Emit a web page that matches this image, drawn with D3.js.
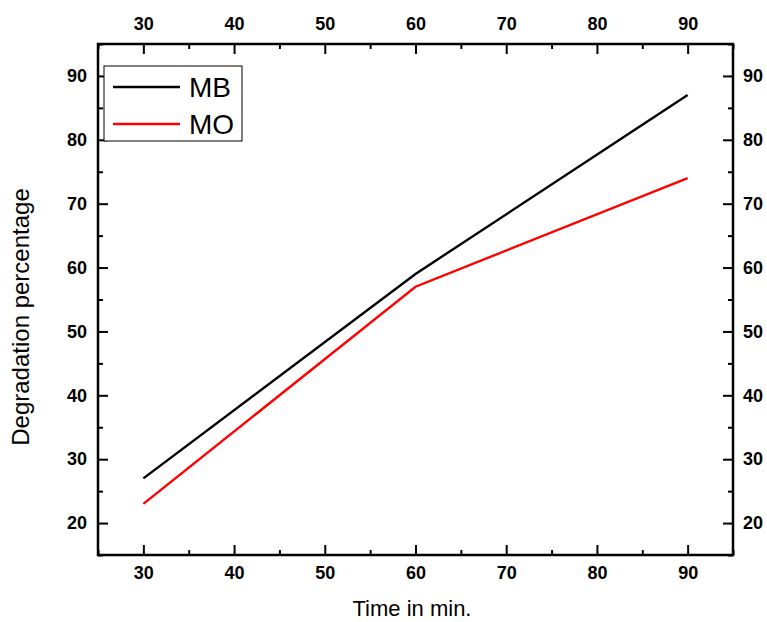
<!DOCTYPE html>
<meta charset="utf-8">
<html lang="en">
<head>
  <title>Degradation percentage vs time</title>
  <script src="https://d3js.org/d3.v7.min.js"></script>
  <style>
    body { margin: 0; background: #fff; }
    text { font-family: "Liberation Sans", Arial, sans-serif; }
    .tick text { font-weight: bold; font-size: 18px; fill: #000; }
  </style>
</head>
<body>
<div id="my_dataviz"></div>
<script>

// data
var times = [30, 60, 90];
var mbValues = [27, 59, 87];
var moValues = [23, 57, 74];
var xTicks = [30, 40, 50, 60, 70, 80, 90];
var yTicks = [20, 30, 40, 50, 60, 70, 80, 90];

var series = [
  { name: "MB", color: "#000000", values: mbValues },
  { name: "MO", color: "#ff0000", values: moValues }
];

// set the dimensions and margins of the graph
var margin = {top: 44, right: 34, bottom: 67, left: 98},
    width = 767 - margin.left - margin.right,
    height = 622 - margin.top - margin.bottom;

var svg = d3.select("#my_dataviz")
  .append("svg")
    .attr("width", 767)
    .attr("height", 622)
  .append("g")
    .attr("transform", "translate(" + margin.left + "," + margin.top + ")");

var x = d3.scaleLinear().domain([25, 95]).range([0, width]);
var y = d3.scaleLinear().domain([15, 95]).range([height, 0]);

var minorX = d3.range(25, 96, 5).filter(function(v) { return xTicks.indexOf(v) < 0; });
var minorY = d3.range(15, 96, 5).filter(function(v) { return yTicks.indexOf(v) < 0; });

// helper to draw an axis with inward ticks (major + minor)
function drawAxis(axisFn, scale, ticks, minor, transform, pad) {
  var g = svg.append("g").attr("transform", transform);
  g.call(axisFn(scale).tickValues(ticks).tickSizeInner(-10).tickSizeOuter(0)
    .tickPadding(pad).tickFormat(d3.format("d")));
  g.select(".domain").remove();
  g.selectAll(".tick line").attr("stroke", "#000").attr("stroke-width", 2);

  var gm = svg.append("g").attr("transform", transform);
  gm.call(axisFn(scale).tickValues(minor).tickSizeInner(-5).tickSizeOuter(0).tickFormat(""));
  gm.select(".domain").remove();
  gm.selectAll(".tick line").attr("stroke", "#000").attr("stroke-width", 2);
  return g;
}

drawAxis(d3.axisBottom, x, xTicks, minorX, "translate(0," + height + ")", 11);
drawAxis(d3.axisTop, x, xTicks, minorX, "translate(0,0)", 14);
drawAxis(d3.axisLeft, y, yTicks, minorY, "translate(0,0)", 11);
drawAxis(d3.axisRight, y, yTicks, minorY, "translate(" + width + ",0)", 10);

// frame
svg.append("rect")
  .attr("x", 0).attr("y", 0)
  .attr("width", width).attr("height", height)
  .attr("fill", "none")
  .attr("stroke", "#000")
  .attr("stroke-width", 2.5);

// lines
var line = d3.line()
  .x(function(d, i) { return x(times[i]); })
  .y(function(d) { return y(d); });

svg.selectAll(".series")
  .data(series)
  .enter()
  .append("path")
    .attr("class", "series")
    .attr("d", function(d) { return line(d.values); })
    .attr("fill", "none")
    .attr("stroke", function(d) { return d.color; })
    .attr("stroke-width", 2.4);

// legend
var legend = svg.append("g").attr("transform", "translate(6,22)");
legend.append("rect")
  .attr("width", 138).attr("height", 75)
  .attr("fill", "#fff")
  .attr("stroke", "#000")
  .attr("stroke-width", 1);
series.forEach(function(s, i) {
  var ly = 21 + i * 37;
  legend.append("line")
    .attr("x1", 9).attr("x2", 76)
    .attr("y1", ly).attr("y2", ly)
    .attr("stroke", s.color)
    .attr("stroke-width", 2.4);
  legend.append("text")
    .attr("x", 85).attr("y", ly + 10)
    .style("font-size", "28px")
    .text(s.name);
});

// axis labels
svg.append("text")
  .attr("x", 412 - margin.left)
  .attr("y", 616 - margin.top)
  .style("text-anchor", "middle")
  .style("font-size", "22px")
  .text("Time in min.");

svg.append("text")
  .attr("transform", "rotate(-90)")
  .attr("x", -(317 - margin.top))
  .attr("y", -margin.left + 29)
  .style("text-anchor", "middle")
  .style("font-size", "24px")
  .text("Degradation percentage");

</script>
</body>
</html>
